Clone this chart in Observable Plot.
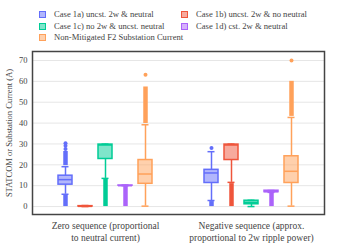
<!DOCTYPE html>
<html>
<head>
<meta charset="utf-8">
<script src="https://cdn.jsdelivr.net/npm/d3@7"></script>
<script src="https://cdn.jsdelivr.net/npm/@observablehq/plot@0.6"></script>
<style>
  html, body { margin: 0; padding: 0; background: #fff; }
  #wrap { width: 349px; height: 249px; position: relative; font-family: "Liberation Serif", "DejaVu Serif", serif; }
  #legend { position: relative; height: 46px; width: 349px; font-size: 8.6px; color: #444; }
  .item { position: absolute; display: flex; align-items: center; white-space: nowrap; }
  .sw { width: 5px; height: 5px; border: 1px solid; margin-right: 8px; }
</style>
</head>
<body>
<div id="wrap">
  <div id="legend"></div>
  <div id="chart"></div>
</div>
<script>
const sequences = ["Zero sequence (proportional to neutral current)", "Negative sequence (approx. proportional to 2w ripple power)"];
const sequenceLines = [["Zero sequence (proportional", "to neutral current)"], ["Negative sequence (approx.", "proportional to 2w ripple power)"]];
const cases = ["Case 1a) uncst. 2w & neutral", "Case 1b) uncst. 2w & no neutral", "Case 1c) no 2w & uncst. neutral", "Case 1d) cst. 2w & neutral", "Non-Mitigated F2 Substation Current"];
const caseColors = ["#636efa", "#EF553B", "#00cc96", "#ab63fa", "#FFA15A"];
const yTicks = [0, 10, 20, 30, 40, 50, 60, 70];

// box statistics, [sequence][case]
const lowerWhisker = [[5.9, 0.0, 13.5, 10.0, 0.2], [2.9, 11.6, 0.0, 6.8, 0.2]];
const q1 = [[10.5, 0.0, 22.8, 10.0, 10.9], [11.3, 22.3, 1.1, 6.9, 11.3]];
const median = [[12.9, 0.1, 29.5, 10.0, 15.6], [16.1, 29.5, 2.0, 7.2, 16.9]];
const q3 = [[14.8, 0.2, 29.7, 10.1, 22.3], [17.6, 29.7, 2.8, 7.6, 24.1]];
const upperWhisker = [[19.1, 0.5, 29.9, 10.3, 39.2], [26.3, 29.9, 3.0, 7.7, 42.7]];

// dense runs of outlier points
const runSeq = [0, 0, 0, 0, 0, 1, 1, 1, 1];
const runCase = [0, 0, 2, 3, 4, 0, 1, 3, 4];
const runLow = [0.0, 19.6, 0.0, 0.0, 39.8, 0.0, 0.0, 0.0, 43.2];
const runHigh = [5.3, 26.4, 13.0, 9.6, 57.3, 2.4, 11.0, 6.5, 60.0];

// isolated outlier points
const dotSeq = [0, 0, 0, 0, 1, 1];
const dotCase = [0, 0, 0, 4, 0, 4];
const dotValue = [27.6, 29.2, 30.3, 63.2, 28.1, 70.0];

const boxes = [];
sequences.forEach((s, i) => cases.forEach((c, j) => boxes.push({
  seq: s, case: c, lo: lowerWhisker[i][j], q1: q1[i][j], med: median[i][j], q3: q3[i][j], hi: upperWhisker[i][j]
})));
const runs = runSeq.map((s, k) => ({seq: sequences[s], case: cases[runCase[k]], y1: runLow[k], y2: runHigh[k]}));
const dots = dotSeq.map((s, k) => ({seq: sequences[s], case: cases[dotCase[k]], y: dotValue[k]}));

// legend
const legend = document.getElementById("legend");
const legendPos = [[39, 15], [181, 15], [39, 27], [181, 27], [39, 38]];
cases.forEach((c, j) => {
  const it = document.createElement("div");
  it.className = "item";
  it.style.left = legendPos[j][0] + "px";
  it.style.top = (legendPos[j][1] - 6) + "px";
  const sw = document.createElement("span");
  sw.className = "sw";
  sw.style.borderColor = caseColors[j];
  sw.style.background = d3.color(caseColors[j]).copy({opacity: 0.5});
  const tx = document.createElement("span");
  tx.textContent = c;
  it.appendChild(sw); it.appendChild(tx);
  legend.appendChild(it);
});

const common = {fx: "seq", x: "case"};
const chart = Plot.plot({
  width: 349,
  height: 203,
  marginLeft: 32,
  marginRight: 25,
  marginTop: 5,
  marginBottom: 35,
  style: {fontFamily: "Liberation Serif, serif", fontSize: "8.5px", color: "#444", background: "transparent"},
  fx: {domain: sequences, padding: 0},
  x: {domain: cases, paddingInner: 0.3, paddingOuter: 1.23, axis: null},
  y: {domain: [-3.8, 74.3]},
  color: {domain: cases, range: caseColors},
  marks: [
    Plot.gridY(yTicks, {stroke: "#e6e6e6", strokeOpacity: 1, strokeWidth: 1}),
    Plot.axisY(yTicks, {tickSize: 0, tickPadding: 5, label: "STATCOM or Substation Current (A)", labelAnchor: "center", labelArrow: "none", labelOffset: 27, fontSize: 8.5}),
    Plot.axisFx({anchor: "bottom", tickSize: 0, tickPadding: 5, label: null, fontSize: 9.5, lineHeight: 1.35,
      tickFormat: d => sequenceLines[sequences.indexOf(d)].join("\n")}),
    Plot.ruleX(runs, {...common, y1: "y1", y2: "y2", stroke: "case", strokeWidth: 4.5}),
    Plot.dot(dots, {...common, y: "y", r: 2, fill: "case", stroke: "none"}),
    Plot.ruleX(boxes, {...common, y1: "lo", y2: "q1", stroke: "case", strokeWidth: 1.5}),
    Plot.ruleX(boxes, {...common, y1: "q3", y2: "hi", stroke: "case", strokeWidth: 1.5}),
    Plot.tickY(boxes, {...common, y: "lo", stroke: "case", strokeWidth: 1.5, insetLeft: 3.5, insetRight: 3.5}),
    Plot.tickY(boxes, {...common, y: "hi", stroke: "case", strokeWidth: 1.5, insetLeft: 3.5, insetRight: 3.5}),
    Plot.barY(boxes, {...common, y1: "q1", y2: "q3", fill: "case", fillOpacity: 0.5, stroke: "case", strokeWidth: 1.5}),
    Plot.tickY(boxes, {...common, y: "med", stroke: "case", strokeWidth: 1.5}),
    Plot.frame({facet: "super", stroke: "#444", strokeWidth: 1.5})
  ]
});
document.getElementById("chart").appendChild(chart);
</script>
</body>
</html>
